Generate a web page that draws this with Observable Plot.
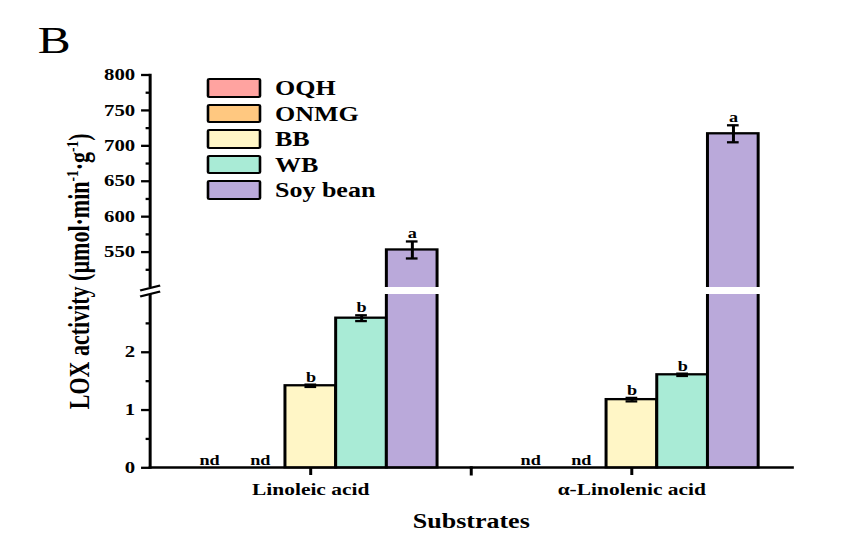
<!DOCTYPE html>
<html>
<head>
<meta charset="utf-8">
<script src="https://cdn.jsdelivr.net/npm/d3@7"></script>
<script src="https://cdn.jsdelivr.net/npm/@observablehq/plot@0.6"></script>
<style>
  html, body { margin: 0; padding: 0; background: #ffffff; overflow: hidden; }
  #wrap { position: relative; width: 650px; height: 551px; transform: scaleX(1.3); transform-origin: 0 0;
          font-family: "Liberation Serif", "Times New Roman", serif; }
  #chart { position: absolute; left: 0; top: 0; }
  #panel { position: absolute; left: 29px; top: 21px; font-size: 38px; line-height: 1; font-weight: normal; color: #000; }
  .sw { position: absolute; left: 159px; width: 42px; height: 19.5px; box-sizing: border-box;
        border: 2.3px solid #000; border-radius: 2px; }
  .lt { position: absolute; left: 211.5px; font-size: 20px; line-height: 1; font-weight: bold; color: #000; white-space: nowrap; }
  g[aria-label="fx-axis label"] text { font-size: 20px; }
  g[aria-label="y-axis label"] text { font-size: 22px; }
</style>
</head>
<body>
<div id="wrap">
  <div id="chart"></div>
  <div id="panel">B</div>
  <div id="legend"></div>
</div>
<script>
// ---- data ----
const substrates = ["Linoleic acid", "α-Linolenic acid"];
const varieties = ["OQH", "ONMG", "BB", "WB", "Soy bean"];
const colors = ["#FFA3A0", "#FFC880", "#FFF6C6", "#A9EBD6", "#BAA9DA"];
const linoleicValues = [0, 0, 1.42, 2.59, 553];
const linoleicErrors = [0, 0, 0.02, 0.05, 12];
const linoleicLetters = ["nd", "nd", "b", "b", "a"];
const linolenicValues = [0, 0, 1.18, 1.61, 717];
const linolenicErrors = [0, 0, 0.03, 0.02, 12];
const linolenicLetters = ["nd", "nd", "b", "b", "a"];
const yMajorTicks = [0, 1, 2, 550, 600, 650, 700, 750, 800];
const yMinorTicks = [0.5, 1.5, 2.5, 525, 575, 625, 675, 725, 775];
const axisBreak = [3, 500];

// ---- table ----
const rows = [];
[[linoleicValues, linoleicErrors, linoleicLetters], [linolenicValues, linolenicErrors, linolenicLetters]]
  .forEach(([vals, errs, sigs], si) => {
    varieties.forEach((v, i) => rows.push({substrate: substrates[si], variety: v, value: vals[i], err: errs[i], sig: sigs[i]}));
  });
const withErr = rows.filter(d => d.err > 0);

// break symbol (two parallel slashes) and small tick symbol
const breakSymbol = {draw(ctx) { ctx.moveTo(-7.7, -0.5); ctx.lineTo(7.7, -5.5); ctx.moveTo(-7.7, 5.5); ctx.lineTo(7.7, 0.5); }};
const tickDownSymbol = {draw(ctx) { ctx.moveTo(0, 0); ctx.lineTo(0, 8); }};

const SW = 2.3;
const chart = Plot.plot({
  width: 650, height: 551,
  marginLeft: 113.8, marginRight: 40.8, marginTop: 74.5, marginBottom: 84,
  style: {fontFamily: '"Liberation Serif", "Times New Roman", serif', fontWeight: "bold", background: "transparent", color: "#000", overflow: "visible"},
  fx: {domain: substrates, padding: 0},
  x: {domain: varieties, paddingInner: 0, paddingOuter: 0.626, axis: null},
  y: {type: "linear", domain: [0, axisBreak[0], axisBreak[1], 800], range: [467.3, 294, 287, 74.5]},
  color: {domain: varieties, range: colors},
  marks: [
    Plot.frame({anchor: "bottom", strokeWidth: SW}),
    Plot.frame({anchor: "left", facetAnchor: "left", strokeWidth: SW}),
    Plot.barY(rows, {fx: "substrate", x: "variety", y: "value", fill: "variety", stroke: "#000", strokeWidth: SW}),
    Plot.barY([0], {y1: axisBreak[0], y2: axisBreak[1], fill: "#ffffff", insetLeft: -4, insetRight: -4}),
    Plot.ruleX(withErr, {fx: "substrate", x: "variety", y1: d => d.value - d.err, y2: d => d.value + d.err, strokeWidth: SW}),
    Plot.tickY(withErr, {fx: "substrate", x: "variety", y: d => d.value + d.err, insetLeft: 15, insetRight: 15, strokeWidth: SW}),
    Plot.tickY(withErr, {fx: "substrate", x: "variety", y: d => d.value - d.err, insetLeft: 15, insetRight: 15, strokeWidth: SW}),
    Plot.text(rows, {fx: "substrate", x: "variety", y: d => d.value + d.err, text: "sig", lineAnchor: "bottom", dy: -3, fontSize: 14}),
    Plot.dot([{fx: substrates[0], y: (axisBreak[0] + axisBreak[1]) / 2}], {fx: "fx", y: "y", frameAnchor: "left", symbol: breakSymbol, fill: "none", stroke: "#000", strokeWidth: SW}),
    Plot.dot([{fx: substrates[1]}], {fx: "fx", frameAnchor: "bottom-left", symbol: tickDownSymbol, fill: "none", stroke: "#000", strokeWidth: SW}),
    Plot.axisY({ticks: yMajorTicks, tickSize: 6.5, tickPadding: 5, fontSize: 16, strokeWidth: SW,
      label: "LOX activity (µmol·min-1·g-1)", labelAnchor: "center", labelArrow: "none", labelOffset: 63}),
    Plot.axisY({ticks: yMinorTicks, tickSize: 3, tickFormat: () => "", strokeWidth: SW, label: null}),
    Plot.axisFx({anchor: "bottom", tickSize: 8, tickPadding: 8, fontSize: 16.5, strokeWidth: SW,
      label: "Substrates", labelAnchor: "center", labelArrow: "none", labelOffset: 60})
  ]
});
document.getElementById("chart").appendChild(chart);

// superscripts in the y label
const ylab = chart.querySelector('g[aria-label="y-axis label"] text');
if (ylab) {
  const parts = [["LOX activity (µmol·min", 0], ["-1", 1], ["·g", 0], ["-1", 1], [")", 0]];
  while (ylab.firstChild) ylab.removeChild(ylab.firstChild);
  let shifted = false;
  for (const [t, sup] of parts) {
    const ts = document.createElementNS("http://www.w3.org/2000/svg", "tspan");
    ts.textContent = t;
    if (sup) { ts.setAttribute("font-size", "13.5"); ts.setAttribute("style", "font-size:13.5px"); ts.setAttribute("dy", "-8.5"); shifted = true; }
    else if (shifted) { ts.setAttribute("dy", "8.5"); shifted = false; }
    ylab.appendChild(ts);
  }
}

// legend
const legend = document.getElementById("legend");
varieties.forEach((v, i) => {
  const sw = document.createElement("div");
  sw.className = "sw";
  sw.style.top = (78 + i * 25.5) + "px";
  sw.style.background = colors[i];
  legend.appendChild(sw);
  const lt = document.createElement("div");
  lt.className = "lt";
  lt.style.top = (78.2 + i * 25.5) + "px";
  lt.textContent = v;
  legend.appendChild(lt);
});
</script>
</body>
</html>
